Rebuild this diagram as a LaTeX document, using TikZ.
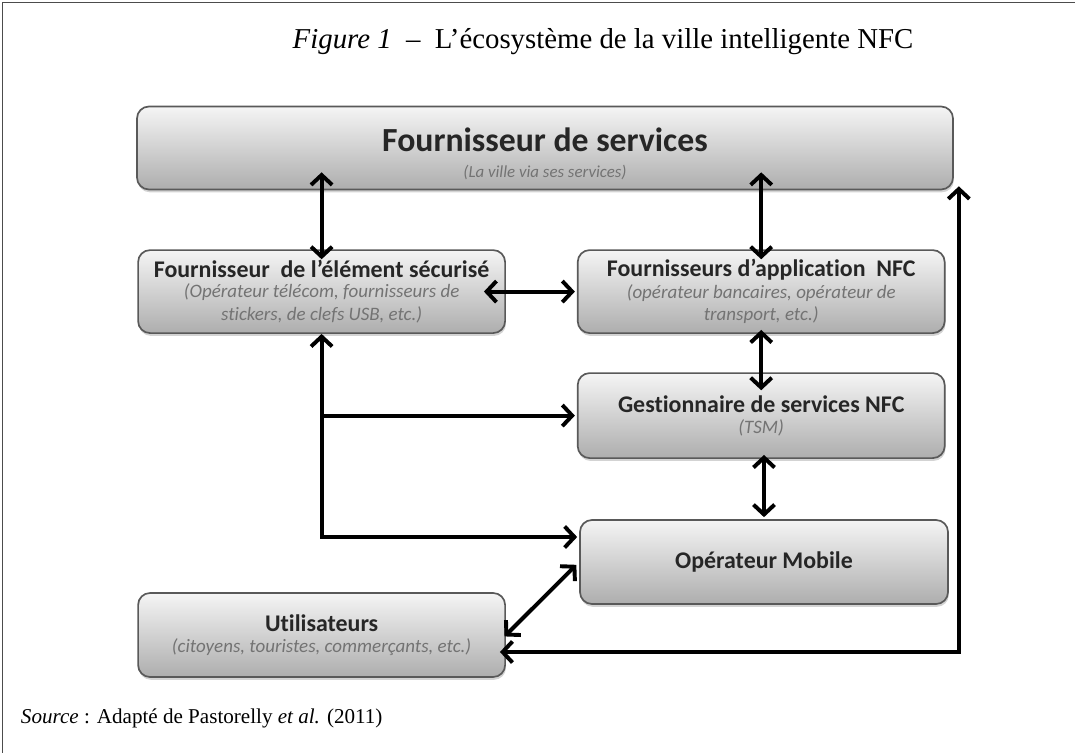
\documentclass[tikz,border=0pt]{standalone}
\usepackage{fontspec}
\setmainfont{Liberation Serif}
\setsansfont{Carlito}[Ligatures=NoCommon]
\usetikzlibrary{positioning, arrows.meta, shadows}

\newcommand{\boxtitle}{\bfseries\fontsize{17}{20}\selectfont\color{black!85}}
\newcommand{\boxsub}{\mdseries\itshape\fontsize{13.5}{16}\selectfont\color{black!55}}

\begin{document}
\begin{tikzpicture}[
  font=\sffamily,
  % Box styles
  actorbox/.style={draw=black!65, line width=1.2pt, rectangle, rounded corners=8.5pt, minimum width=9.175cm, minimum height=2.075cm, top color=black!4, bottom color=black!32, align=center, inner sep=2pt, drop shadow={shadow xshift=0.6pt, shadow yshift=-2pt, opacity=0.35}},
  % Arrow styles
  biline/.style={draw, {Straight Barb[length=7pt, width=15pt]}-{Straight Barb[length=7pt, width=15pt]}, line width=2.8pt},
  line/.style={draw, -{Straight Barb[length=7pt, width=15pt]}, line width=2.8pt},
  framecol/.style={draw=black!70, line width=0.8pt}
]
  \useasboundingbox (0,0) rectangle (26.875,-18.825);

  % ==========================================
  % FRAME AND CAPTIONS
  % ==========================================
  \draw[framecol] (0.07,-18.825) -- (0.07,-0.07) -- (26.875,-0.07);
  \node[font=\rmfamily\fontsize{20.5}{24}\selectfont] (caption) at (15.075,-1.05) {{\itshape Figure 1}~~–~~L’écosystème de la ville intelligente NFC};
  \node[anchor=west, font=\rmfamily\fontsize{15}{18}\selectfont] (source) at (0.4,-17.95) {{\itshape Source} : Adapté de Pastorelly {\itshape et al.} (2011)};

  % ==========================================
  % ACTORS
  % ==========================================
  \node[actorbox, minimum width=20.4cm] (svc) at (13.625,-3.7) {\rule{0pt}{25pt}{\bfseries\fontsize{24}{28}\selectfont\color{black!85}Fournisseur de services}\\[7pt] {\boxsub\fontsize{12}{14}\selectfont (La ville via ses services)}};
  \node[actorbox] (se_prov) at (8.04,-7.29) {\boxtitle Fournisseur~ de l’élément sécurisé\\[2pt] \boxsub (Opérateur télécom, fournisseurs de\\[3pt] \boxsub stickers, de clefs USB, etc.)};
  \node[actorbox] (app_prov) at (19.03,-7.29) {\boxtitle Fournisseurs d’application~ NFC\\[2pt] \boxsub (opérateur bancaires, opérateur de\\[3pt] \boxsub transport, etc.)};
  \node[actorbox, minimum height=2.125cm] (tsm) at (19.03,-10.39) {\boxtitle Gestionnaire de services NFC\\[3pt] \boxsub (TSM)};
  \node[actorbox, minimum width=9.2cm, minimum height=2.1cm] (mno) at (19.1,-14.05) {\boxtitle Opérateur Mobile};
  \node[actorbox, minimum height=2.1cm] (users) at (8.04,-15.875) {\boxtitle Utilisateurs\\[3pt] \boxsub (citoyens, touristes, commerçants, etc.)};

  % ==========================================
  % LINKS
  % ==========================================
  \draw[biline, shorten <=-0.45cm, shorten >=-0.25cm] (se_prov.north |- svc.south) -- (se_prov.north);
  \draw[biline, shorten <=-0.45cm, shorten >=-0.25cm] (app_prov.north |- svc.south) -- (app_prov.north);
  \draw[biline, shorten <=-0.55cm, shorten >=0.05cm] (se_prov.east) -- (app_prov.west);
  \draw[biline, shorten <=-0.1cm, shorten >=-0.45cm] (app_prov.south) -- (app_prov.south |- tsm.north);
  \draw[biline, shorten <=-0.1cm, shorten >=0.05cm] (mno.north |- tsm.south) -- (mno.north);

  % Bus from the secure element provider
  \coordinate (bus_end) at ([yshift=0.625cm]mno.west);
  \draw[biline, shorten >=0.05cm] (se_prov.south) |- (bus_end);
  \draw[line, shorten >=0.05cm] (se_prov.south |- tsm.west) -- (tsm.west);

  % Users links
  \draw[biline, shorten <=0.1cm, shorten >=-0.05cm] (mno.west) -- (users.east);
  \coordinate (loop_start) at ([yshift=-0.425cm]users.east);
  \draw[biline, shorten <=-0.15cm] (loop_start) -| ([xshift=0.125cm, yshift=0.1cm]svc.south east);

\end{tikzpicture}
\end{document}
